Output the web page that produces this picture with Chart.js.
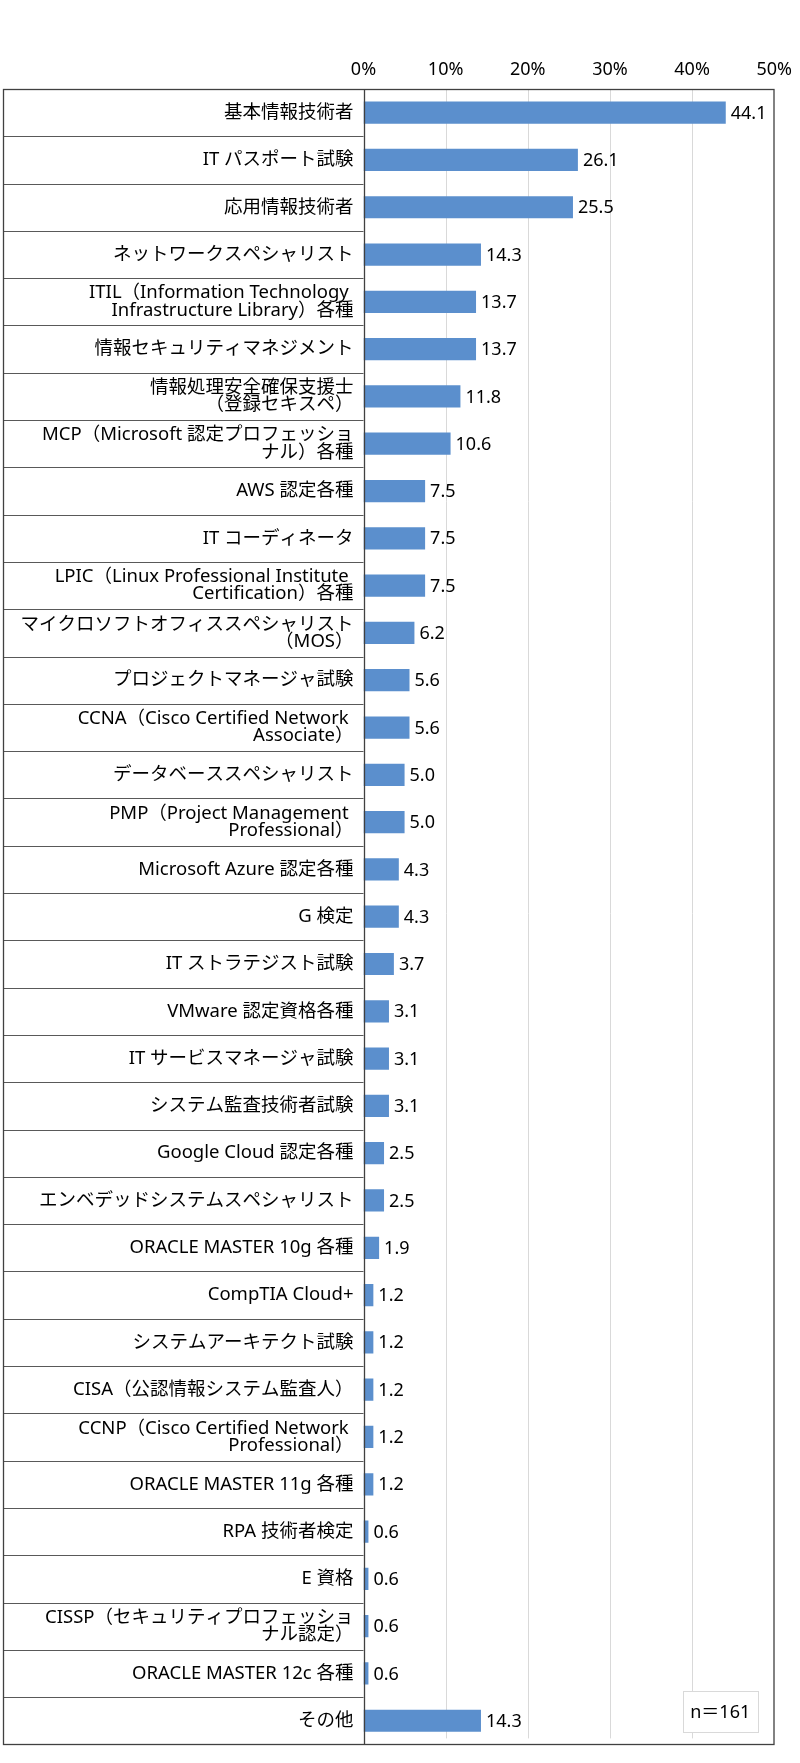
<!DOCTYPE html>
<html>
<head>
<meta charset="utf-8">
<script src="https://cdn.jsdelivr.net/npm/chart.js@4.4.1/dist/chart.umd.min.js"></script>
<style>
html,body{margin:0;padding:0;background:#fff;}
#wrap{width:800px;height:1763px;position:relative;}
</style>
</head>
<body>
<div id="wrap"><canvas id="c" width="800" height="1763"></canvas></div>
<script>
const categories = [
  ["基本情報技術者"],
  ["IT パスポート試験"],
  ["応用情報技術者"],
  ["ネットワークスペシャリスト"],
  ["ITIL（Information Technology ", "Infrastructure Library）各種"],
  ["情報セキュリティマネジメント"],
  ["情報処理安全確保支援士", "（登録セキスペ）"],
  ["MCP（Microsoft 認定プロフェッショ", "ナル）各種"],
  ["AWS 認定各種"],
  ["IT コーディネータ"],
  ["LPIC（Linux Professional Institute ", "Certification）各種"],
  ["マイクロソフトオフィススペシャリスト", "（MOS）"],
  ["プロジェクトマネージャ試験"],
  ["CCNA（Cisco Certified Network ", "Associate）"],
  ["データベーススペシャリスト"],
  ["PMP（Project Management ", "Professional）"],
  ["Microsoft Azure 認定各種"],
  ["G 検定"],
  ["IT ストラテジスト試験"],
  ["VMware 認定資格各種"],
  ["IT サービスマネージャ試験"],
  ["システム監査技術者試験"],
  ["Google Cloud 認定各種"],
  ["エンベデッドシステムスペシャリスト"],
  ["ORACLE MASTER 10g 各種"],
  ["CompTIA Cloud+"],
  ["システムアーキテクト試験"],
  ["CISA（公認情報システム監査人）"],
  ["CCNP（Cisco Certified Network ", "Professional）"],
  ["ORACLE MASTER 11g 各種"],
  ["RPA 技術者検定"],
  ["E 資格"],
  ["CISSP（セキュリティプロフェッショ", "ナル認定）"],
  ["ORACLE MASTER 12c 各種"],
  ["その他"]
];
const values = [44.1, 26.1, 25.5, 14.3, 13.7, 13.7, 11.8, 10.6, 7.5, 7.5, 7.5, 6.2, 5.6, 5.6, 5.0, 5.0, 4.3, 4.3, 3.7, 3.1, 3.1, 3.1, 2.5, 2.5, 1.9, 1.2, 1.2, 1.2, 1.2, 1.2, 0.6, 0.6, 0.6, 0.6, 14.3];
const xTickValues = [0, 10, 20, 30, 40, 50];
const sampleNote = "n＝161";

const FONT = '"Noto Sans", "Noto Sans CJK JP", sans-serif';
const BAR_COLOR = '#5b8fcd';

const tablePlugin = {
  id: 'tablePlugin',
  beforeDatasetsDraw(chart) {
    const ctx = chart.ctx;
    const ca = chart.chartArea;
    const y = chart.scales.y;
    const x = chart.scales.x;
    const n = categories.length;
    ctx.save();
    ctx.strokeStyle = '#d9d9d9';
    ctx.lineWidth = 1;
    xTickValues.forEach(v => {
      if (v === 0 || v === 50) return;
      const px = Math.round(x.getPixelForValue(v)) + 0.5;
      ctx.beginPath();
      ctx.moveTo(px, ca.top);
      ctx.lineTo(px, ca.bottom - 6);
      ctx.stroke();
    });
    ctx.strokeStyle = '#595959';
    for (let i = 0; i < n - 1; i++) {
      const py = Math.round((y.getPixelForValue(i) + y.getPixelForValue(i + 1)) / 2) + 0.5;
      ctx.beginPath();
      ctx.moveTo(3, py);
      ctx.lineTo(ca.left, py);
      ctx.stroke();
    }
    ctx.restore();
  },
  afterDatasetsDraw(chart) {
    const ctx = chart.ctx;
    const ca = chart.chartArea;
    ctx.save();
    ctx.strokeStyle = '#404040';
    ctx.lineWidth = 1.3;
    ctx.strokeRect(3.5, Math.round(ca.top) + 0.5, Math.round(ca.right) - 3.5, Math.round(ca.bottom - ca.top));
    ctx.beginPath();
    const ax = Math.round(ca.left) + 0.5;
    ctx.moveTo(ax, ca.top);
    ctx.lineTo(ax, ca.bottom);
    ctx.stroke();
    const meta = chart.getDatasetMeta(0);
    ctx.fillStyle = '#000';
    ctx.font = '18px ' + FONT;
    ctx.textAlign = 'left';
    ctx.textBaseline = 'middle';
    meta.data.forEach((bar, i) => {
      ctx.fillText(values[i].toFixed(1), bar.x + 5, bar.y + 1);
    });
    const bw = 75, bh = 41;
    const bx = ca.right - 16.5 - bw;
    const by = ca.bottom - 12 - bh;
    ctx.fillStyle = '#fff';
    ctx.fillRect(bx, by, bw, bh);
    ctx.strokeStyle = '#d9d9d9';
    ctx.lineWidth = 1;
    ctx.strokeRect(Math.round(bx) + 0.5, Math.round(by) + 0.5, bw, bh);
    ctx.fillStyle = '#000';
    ctx.textAlign = 'center';
    ctx.fillText(sampleNote, bx + bw / 2, by + bh / 2 + 1);
    ctx.restore();
  }
};

new Chart(document.getElementById('c'), {
  type: 'bar',
  data: {
    labels: categories,
    datasets: [{
      data: values,
      backgroundColor: BAR_COLOR,
      borderWidth: 0,
      barPercentage: 0.47,
      categoryPercentage: 1.0
    }]
  },
  options: {
    indexAxis: 'y',
    responsive: false,
    animation: false,
    devicePixelRatio: 1,
    layout: { padding: { left: 3, top: 0, right: 16.5, bottom: 11 } },
    plugins: { legend: { display: false }, tooltip: { enabled: false } },
    scales: {
      x: {
        position: 'top',
        min: 0,
        max: 50,
        afterFit(s) { s.height = 89; },
        afterBuildTicks(s) { s.ticks = xTickValues.map(v => ({ value: v })); },
        ticks: {
          callback: v => v + '%',
          font: { family: FONT, size: 18 },
          color: '#000',
          padding: 8,
          maxRotation: 0
        },
        grid: { display: false, drawTicks: false },
        border: { display: false }
      },
      y: {
        afterFit(s) { s.width = 360.5; },
        ticks: {
          font: { family: FONT, size: 18.5, lineHeight: 0.93 },
          color: '#000',
          padding: 10,
          autoSkip: false
        },
        grid: { display: false, drawTicks: false },
        border: { display: false }
      }
    }
  },
  plugins: [tablePlugin]
});
</script>
</body>
</html>
